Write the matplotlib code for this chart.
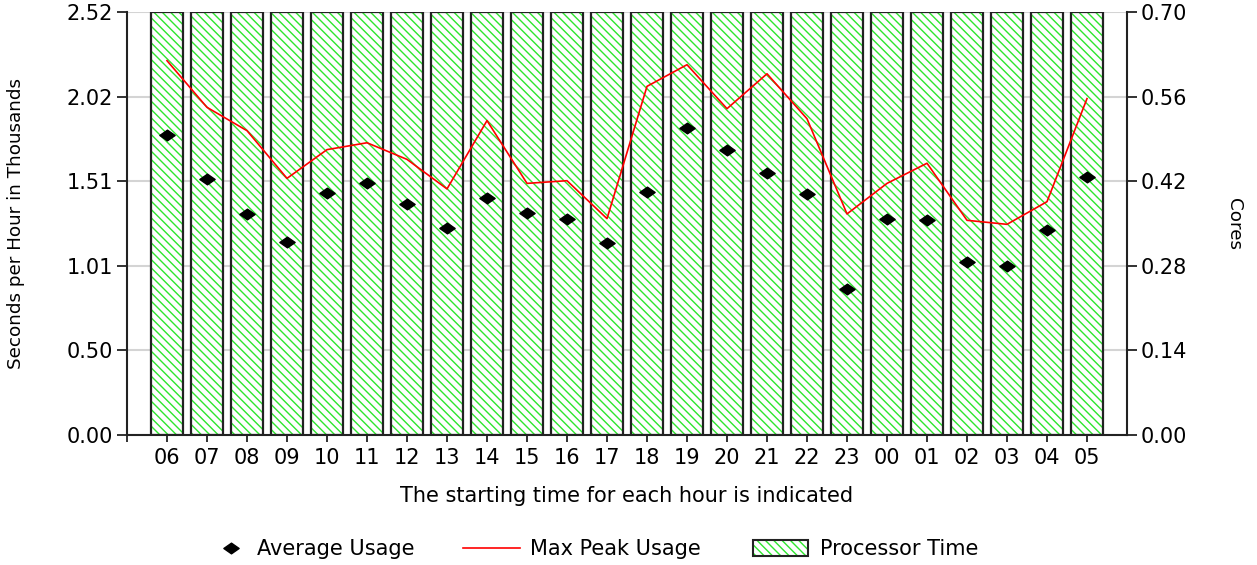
import numpy as np
import matplotlib.pyplot as plt
from matplotlib.path import Path
from matplotlib.patches import Patch
from matplotlib.lines import Line2D

plt.rcParams['font.family'] = ['DejaVu Sans']
plt.rcParams['hatch.linewidth'] = 1.0

# === Datos ===
hours = ["06", "07", "08", "09", "10", "11", "12", "13", "14", "15", "16", "17",
         "18", "19", "20", "21", "22", "23", "00", "01", "02", "03", "04", "05"]
avg_usage = [1.785, 1.525, 1.317, 1.15, 1.440, 1.499, 1.376, 1.235, 1.412, 1.324, 1.289, 1.142,
             1.446, 1.831, 1.700, 1.561, 1.438, 0.872, 1.289, 1.281, 1.029, 1.009, 1.219, 1.535]
max_peak = [2.230, 1.952, 1.813, 1.529, 1.700, 1.741, 1.642, 1.466, 1.873, 1.499, 1.515, 1.289,
            2.077, 2.206, 1.944, 2.152, 1.884, 1.317, 1.499, 1.619, 1.279, 1.255, 1.390, 2.004]
processor_time = [2.52, 2.52, 2.52, 2.52, 2.52, 2.52, 2.52, 2.52, 2.52, 2.52, 2.52, 2.52,
                  2.52, 2.52, 2.52, 2.52, 2.52, 2.52, 2.52, 2.52, 2.52, 2.52, 2.52, 2.52]
left_ticks = [0.0, 0.504, 1.008, 1.512, 2.016, 2.52]
left_labels = ["0.00", "0.50", "1.01", "1.51", "2.02", "2.52"]
right_ticks = [0.0, 0.14, 0.28, 0.42, 0.56, 0.70]
right_labels = ["0.00", "0.14", "0.28", "0.42", "0.56", "0.70"]

GREEN = '#2ee62e'
EDGE = '#222222'
HATCH = '\\\\\\\\'
FS = 15
FS_LAB = 13.2

# diamante achatado
diamond = Path([(-1, 0), (0, 0.7), (1, 0), (0, -0.7), (-1, 0)],
               [Path.MOVETO, Path.LINETO, Path.LINETO, Path.LINETO, Path.CLOSEPOLY])

W, H = 1257, 565
fig = plt.figure(figsize=(W / 100, H / 100), dpi=100)
ax = fig.add_axes([127 / W, 1 - 435 / H, 1000 / W, 423 / H])

x = np.arange(len(hours))
ax.bar(x, processor_time, width=0.8, color='white', edgecolor=GREEN,
       hatch=HATCH, linewidth=0, zorder=2)
ax.bar(x, processor_time, width=0.8, fill=False, edgecolor=EDGE,
       linewidth=1.6, zorder=3)
ax.plot(x, max_peak, color='red', lw=1.2, zorder=4)
ax.plot(x, avg_usage, ls='none', marker=diamond, ms=11, color='black', zorder=5)

ax.set_xlim(-1, 24)
ax.set_ylim(0, 2.52)
ax.set_xticks(x)
ax.set_xticklabels(hours)
ax.set_xticks([-1], minor=True)
ax.set_yticks(left_ticks)
ax.set_yticklabels(left_labels)
ax.grid(axis='y', color='#d4d4d4', lw=1.5, zorder=0)
ax.set_axisbelow(True)

for s in ['top', 'right']:
    ax.spines[s].set_visible(False)
for s in ['left', 'bottom']:
    ax.spines[s].set_color(EDGE)
    ax.spines[s].set_linewidth(1.5)

ax.tick_params(axis='y', direction='out', length=7, width=1.3, color=EDGE,
               labelsize=FS, pad=3)
ax.tick_params(axis='x', which='both', direction='out', length=5, width=1.3,
               color=EDGE, labelsize=FS, pad=4.5)

ax.set_xlabel("The starting time for each hour is indicated", fontsize=FS)
ax.xaxis.set_label_coords(0.5, -0.1206)
ax.set_ylabel("Seconds per Hour in Thousands", fontsize=FS_LAB, va='center')
ax.yaxis.set_label_coords(-0.111, 0.5)

# eje derecho
ax2 = ax.twinx()
ax2.set_ylim(0, 0.70)
ax2.set_yticks(right_ticks)
ax2.set_yticklabels(right_labels)
for s in ['top', 'left', 'bottom']:
    ax2.spines[s].set_visible(False)
ax2.spines['right'].set_color(EDGE)
ax2.spines['right'].set_linewidth(1.5)
ax2.tick_params(axis='y', direction='out', length=7, width=1.3, color=EDGE,
                labelsize=FS, pad=3)
ax2.set_ylabel("Cores", fontsize=FS_LAB, rotation=270, va='center')
ax2.yaxis.set_label_coords(1.107, 0.5)

# === Leyenda (una entrada por leyenda para controlar posiciones) ===
ly = 1 - 549 / H
h_avg = Line2D([], [], ls='none', marker=diamond, ms=11, color='black')
h_peak = Line2D([], [], color='red', lw=1.2)
h_proc = (Patch(facecolor='white', edgecolor=GREEN, hatch=HATCH, lw=0),
          Patch(fill=False, edgecolor=EDGE, lw=1.5))

legend_items = [
    (h_avg, "Average Usage", 221, 1.0, 0.75, 0.7),
    (h_peak, "Max Peak Usage", 463, 2.74, 0.48, 0.7),
    (h_proc, "Processor Time", 753, 2.64, 0.56, 0.82),
]
for handle, label, x0, hl, tp, hh in legend_items:
    leg = fig.legend([handle], [label], loc='center left',
                     bbox_to_anchor=(x0 / W, ly), frameon=False, fontsize=FS,
                     handlelength=hl, handletextpad=tp, handleheight=hh,
                     borderpad=0, borderaxespad=0)

fig.savefig("out.png", dpi=100)
